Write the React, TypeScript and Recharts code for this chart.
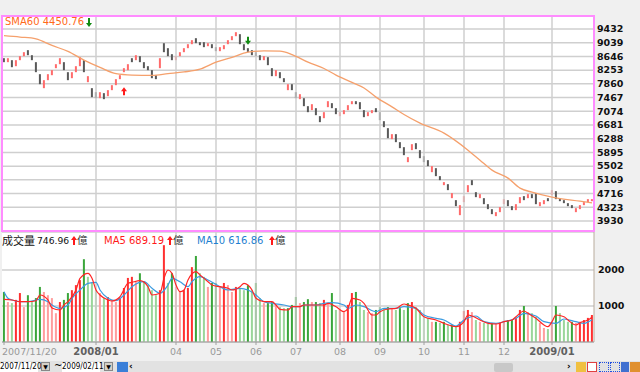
import { Bar, CartesianGrid, ComposedChart, Line, ReferenceDot, ReferenceLine, XAxis, YAxis } from 'recharts'

// one bar per two trading days, 2007/11/20 .. 2009/02/11
const opens = [
  8595, 8481, 8538, 8366, 8538, 8653, 8825, 8681, 8481, 8137, 7736, 7965, 8108, 8309, 8423, 8481, 8194, 8022, 8194, 8366,
  8538, 7908, 7736, 7621, 7449, 7593, 7507, 7679, 7822, 7994, 8194, 8252, 8595, 8538, 8653, 8481, 8366, 8252, 8108, 8309,
  9025, 8882, 8710, 8538, 8653, 8767, 8882, 8996, 9168, 9054, 9054, 8939, 8996, 8911, 8796, 8853, 8996, 9111, 9226, 9283,
  8996, 8882, 8825, 8767, 8681, 8538, 8624, 8309, 8080, 8194, 8022, 7679, 7850, 7621, 7421, 7449, 7220, 7106, 7163, 6934,
  6876, 7192, 7306, 7163, 6934, 6991, 7106, 7277, 7363, 7335, 7106, 6934, 7020, 7163, 7048, 6790, 6590, 6275, 6418, 6189,
  6045, 5616, 5960, 6160, 5960, 5788, 5673, 5329, 5444, 5215, 4957, 4985, 4584, 4527, 4097, 4470, 4756, 5100, 4756, 4584,
  4584, 4412, 4269, 4069, 4183, 4412, 4527, 4355, 4241, 4441, 4642, 4584, 4699, 4728, 4355, 4412, 4584, 4670, 4785, 4584,
  4527, 4441, 4384, 4183, 4269, 4384, 4470, 4498,
]
const closes = [
  8481, 8595, 8337, 8538, 8653, 8767, 8681, 8538, 8194, 7850, 7965, 8137, 8252, 8423, 8595, 8252, 7965, 8194, 8366, 8624,
  8194, 8080, 7478, 7449, 7621, 7421, 7679, 7822, 7994, 8108, 8309, 8423, 8481, 8681, 8481, 8309, 8252, 8022, 7994, 8595,
  8767, 8653, 8538, 8653, 8767, 8882, 8996, 9111, 9025, 8968, 8911, 9025, 8882, 8796, 8911, 8968, 9111, 9226, 9340, 8996,
  8825, 8767, 8681, 8653, 8538, 8653, 8395, 8080, 8252, 8022, 7908, 7850, 7679, 7449, 7564, 7220, 7048, 7277, 6962, 6762,
  7048, 7363, 7163, 6991, 7048, 7106, 7249, 7363, 7277, 7134, 6905, 7048, 7106, 7048, 6819, 6619, 6303, 6418, 6189, 6017,
  5816, 5759, 6131, 5988, 5730, 5616, 5501, 5501, 5215, 5100, 5043, 4814, 4728, 4355, 4384, 4642, 4957, 4957, 4613, 4699,
  4412, 4269, 4126, 4183, 4327, 4556, 4355, 4241, 4412, 4613, 4527, 4699, 4584, 4412, 4470, 4527, 4498, 4814, 4556, 4498,
  4441, 4355, 4298, 4298, 4384, 4470, 4556, 4556,
]
// 成交量 (億)
const volumes = [
  1390, 1110, 1080, 1170, 1360, 970, 1300, 1110, 1220, 1530, 1390, 1300, 1220, 800, 1110, 1170, 1360, 1440, 1580, 1720,
  2300, 1810, 1640, 1440, 1360, 1220, 1250, 1170, 1110, 1220, 1500, 1780, 1810, 1670, 1910, 1670, 1580, 1440, 1300, 1440,
  2690, 1640, 1910, 1530, 1390, 1440, 1500, 2080, 2390, 1910, 1810, 1530, 1640, 1640, 1530, 1640, 1580, 1390, 1530, 1500,
  1440, 1580, 1440, 1640, 1220, 1080, 1080, 1110, 1030, 970, 940, 940, 1030, 1250, 1080, 1110, 1190, 1110, 1110, 1080,
  1170, 1080, 1360, 890, 890, 830, 1030, 1360, 1390, 1110, 890, 830, 800, 890, 970, 940, 970, 940, 890, 940,
  890, 1080, 1110, 970, 890, 700, 670, 560, 560, 530, 560, 470, 470, 420, 560, 860, 890, 830, 610, 560,
  530, 500, 530, 500, 530, 560, 610, 610, 670, 890, 1000, 830, 800, 700, 530, 390, 360, 560, 1000, 800,
  610, 560, 560, 530, 560, 610, 670, 750,
]
// [bar index, value]
const sma60Pts = [
  [0, 9240], [4, 9200], [8, 9150], [12, 8960], [16, 8790], [20, 8540], [24, 8330], [28, 8150], [32, 8110], [37, 8100],
  [41, 8150], [45, 8200], [49, 8280], [53, 8480], [57, 8620], [61, 8770], [65, 8805], [69, 8796], [72, 8700], [76, 8480],
  [80, 8300], [83, 8110], [87, 7900], [90, 7740], [93, 7480], [97, 7200], [100, 6980], [104, 6733], [110, 6447], [116, 5960],
  [119, 5673], [122, 5387], [126, 5158], [129, 4871], [132, 4756], [137, 4613], [144, 4498], [147, 4451],
]
const ma5Pts = [
  [0, 1186], [2, 1167], [4, 1120], [6, 1120], [8, 1147], [9, 1306], [11, 1167], [12, 945], [14, 889], [15, 1028],
  [16, 1120], [18, 1445], [19, 1770], [21, 1908], [22, 1770], [23, 1445], [24, 1306], [26, 1167], [27, 1139], [29, 1258],
  [31, 1631], [32, 1658], [34, 1703], [36, 1536], [37, 1306], [39, 1353], [40, 1770], [41, 2000], [42, 1908], [43, 1583],
  [44, 1397], [45, 1445], [46, 1722], [48, 1953], [49, 1861], [51, 1675], [52, 1583], [54, 1536], [56, 1492], [57, 1445],
  [59, 1536], [60, 1631], [62, 1445], [63, 1214], [65, 1120], [67, 1120], [68, 1028], [69, 908], [71, 889], [72, 981],
  [74, 981], [75, 1028], [78, 1028], [80, 1028], [81, 1075], [83, 981], [85, 842], [86, 936], [87, 1214], [89, 1167],
  [90, 1075], [92, 750], [93, 750], [94, 842], [96, 917], [98, 936], [100, 1056], [101, 1028], [103, 936], [105, 703],
  [108, 611], [110, 519], [113, 425], [115, 564], [116, 750], [117, 722], [119, 611], [121, 519], [123, 500], [125, 564],
  [127, 611], [128, 703], [130, 861], [131, 797], [133, 658], [135, 472], [136, 425], [137, 564], [138, 750], [140, 703],
  [141, 611], [143, 472], [144, 536], [146, 611], [147, 689],
]
const ma10Pts = [
  [0, 1397], [1, 1214], [2, 1167], [4, 1120], [6, 1120], [9, 1186], [11, 1120], [12, 1028], [14, 936], [16, 1028],
  [17, 1214], [19, 1445], [21, 1631], [23, 1658], [24, 1445], [26, 1214], [28, 1147], [30, 1306], [32, 1536], [35, 1675],
  [37, 1492], [39, 1353], [41, 1583], [42, 1770], [44, 1675], [46, 1536], [47, 1675], [49, 1814], [51, 1722], [54, 1536],
  [56, 1445], [59, 1492], [61, 1445], [63, 1306], [65, 1120], [67, 1075], [70, 1028], [72, 981], [74, 981], [75, 1028],
  [78, 1028], [80, 1075], [82, 1092], [85, 1028], [86, 936], [88, 1028], [90, 981], [93, 842], [95, 936], [98, 936],
  [100, 981], [103, 936], [105, 750], [108, 658], [110, 611], [113, 444], [115, 611], [118, 722], [120, 564], [123, 519],
  [125, 564], [128, 658], [130, 797], [133, 722], [135, 564], [138, 519], [140, 639], [143, 564], [145, 519], [147, 617],
]

const priceTicks = [3930, 4323, 4716, 5109, 5502, 5895, 6288, 6681, 7074, 7467, 7860, 8253, 8646, 9039, 9432]
const volumeTicks = [1000, 2000]
const monthIdx = [23, 43, 53, 63, 73, 84, 94, 105, 115, 125, 137]
const monthLabels = ['2008/01', '04', '05', '06', '07', '08', '09', '10', '11', '12', '2009/01']
const startLabel = '2007/11/20'
const signalUp = [30, 7650]
const signalDown = [61, 9097]

const font = '"DejaVu Sans", Verdana, sans-serif'
const cjk = '"Noto Sans CJK TC", "Noto Sans CJK SC", sans-serif'
const gridColor = '#cfcfcf'

type Row = {
  i: number
  o: number
  c: number
  range: number[]
  v: number
  volColor: string
  sma60: number | null
  ma5: number | null
  ma10: number | null
}

const rows: Row[] = opens.map((o, i) => {
  const c = closes[i]
  const rise = c >= (i > 0 ? closes[i - 1] : o)
  const grow = i === 0 || volumes[i] >= volumes[i - 1]
  const volColor = rise ? (grow ? '#ff3030' : '#ff9d9d') : grow ? '#3aa63a' : '#9ad69a'
  return { i, o, c, range: [Math.min(o, c), Math.max(o, c)], v: volumes[i], volColor, sma60: null, ma5: null, ma10: null }
})
sma60Pts.forEach(([i, v]) => (rows[i].sma60 = v))
ma5Pts.forEach(([i, v]) => (rows[i].ma5 = v))
ma10Pts.forEach(([i, v]) => (rows[i].ma10 = v))

const tickLabels = new Map<number, string>([[0, startLabel], ...monthIdx.map((m, k) => [m, monthLabels[k]] as [number, string])])

function Candle(props: any) {
  const { x, y, width, height, payload } = props
  const top = Math.min(y, y + height)
  const h = Math.max(Math.abs(height), 2)
  return <rect x={x + width / 2 - 1} y={top} width={2} height={h} fill={payload.c >= payload.o ? '#ff6b6b' : '#595959'} />
}

function VolBar(props: any) {
  const { x, y, width, height, payload } = props
  return <rect x={x + width / 2 - 1} y={y} width={2} height={Math.max(height, 0)} fill={payload.volColor} />
}

function XTick(props: any) {
  const { x, y, payload } = props
  const label = tickLabels.get(payload.value) ?? ''
  const first = payload.value === 0
  const bold = !first && label.includes('/')
  return (
    <text
      x={first ? 2 : x}
      y={y + 10}
      textAnchor={first ? 'start' : 'middle'}
      fontSize={bold ? 10 : 9.5}
      fontWeight={bold ? 'bold' : 'normal'}
      fill={bold ? '#606060' : '#999'}
      fontFamily={font}
    >
      {label}
    </text>
  )
}

const upMark = (p: any) => (
  <path d={`M${p.cx} ${p.cy - 4} l3 4 h-2 v4 h-2 v-4 h-2 z`} fill="#ff1a1a" />
)
const downMark = (p: any) => (
  <path d={`M${p.cx} ${p.cy + 4} l3 -4 h-2 v-4 h-2 v4 h-2 z`} fill="#118a11" />
)

function Arrow({ left, top, color, down }: { left: number; top: number; color: string; down?: boolean }) {
  const d = down ? 'M3 9 L6 5 L4 5 L4 0 L2 0 L2 5 L0 5 Z' : 'M3 0 L6 4 L4 4 L4 9 L2 9 L2 4 L0 4 Z'
  return (
    <svg width={6} height={9} style={{ position: 'absolute', left, top }}>
      <path d={d} fill={color} />
    </svg>
  )
}

const axisTick = { fontSize: 9.5, fontWeight: 'bold', fill: '#111', fontFamily: font }

function App() {
  return (
    <div
      style={{
        position: 'fixed',
        left: 0,
        top: 0,
        width: 640,
        height: 372,
        background: '#f0f0f0',
        overflow: 'hidden',
        fontFamily: font,
      }}
    >
      <div style={{ position: 'absolute', left: 0, top: 0 }}>
        <ComposedChart width={640} height={233} data={rows} margin={{ top: 16, right: 0, bottom: 2, left: 2 }}>
          <CartesianGrid vertical={false} stroke={gridColor} strokeWidth={1.5} fill="#ffffff" />
          <XAxis dataKey="i" hide />
          <YAxis
            orientation="right"
            width={46}
            domain={[3643, 9804]}
            ticks={priceTicks}
            interval={0}
            allowDataOverflow
            axisLine={false}
            tickLine={false}
            tickSize={0}
            tickMargin={3}
            tick={axisTick}
          />
          {monthIdx.map((m) => (
            <ReferenceLine key={m} x={m} stroke={gridColor} strokeWidth={1.5} />
          ))}
          <Bar dataKey="range" shape={Candle} isAnimationActive={false} />
          <Line
            dataKey="sma60"
            type="monotone"
            stroke="#f5a06c"
            strokeWidth={1.3}
            dot={false}
            connectNulls
            isAnimationActive={false}
          />
          <ReferenceDot x={signalUp[0]} y={signalUp[1]} shape={upMark} />
          <ReferenceDot x={signalDown[0]} y={signalDown[1]} shape={downMark} />
        </ComposedChart>
      </div>

      <div
        style={{
          position: 'absolute',
          left: 1,
          top: 15,
          width: 594,
          height: 217,
          boxSizing: 'border-box',
          border: '2px solid #ff8cff',
          pointerEvents: 'none',
        }}
      />
      <div style={{ position: 'absolute', left: 5, top: 16, fontSize: 10, color: '#ff6a1a', whiteSpace: 'nowrap' }}>
        SMA60 4450.76
      </div>
      <Arrow left={86} top={18} color="#118a11" down />

      <div style={{ position: 'absolute', left: 0, top: 232 }}>
        <ComposedChart width={640} height={128} data={rows} margin={{ top: 0, right: 0, bottom: 0, left: 2 }}>
          <CartesianGrid vertical={false} stroke={gridColor} strokeWidth={1.5} fill="#ffffff" />
          <XAxis
            dataKey="i"
            height={18}
            ticks={[0, ...monthIdx]}
            interval={0}
            stroke="#a0a0a0"
            tickSize={3}
            tickMargin={0}
            tick={XTick}
          />
          <YAxis
            orientation="right"
            width={46}
            domain={[0, 3056]}
            ticks={volumeTicks}
            interval={0}
            allowDataOverflow
            axisLine={{ stroke: '#b8ab9c' }}
            tickLine={false}
            tickSize={0}
            tickMargin={4}
            tick={axisTick}
          />
          {monthIdx.map((m) => (
            <ReferenceLine key={m} x={m} stroke={gridColor} strokeWidth={1.5} />
          ))}
          <Bar dataKey="v" shape={VolBar} isAnimationActive={false} />
          <Line dataKey="ma10" type="monotone" stroke="#3b9be0" strokeWidth={1.2} dot={false} connectNulls isAnimationActive={false} />
          <Line dataKey="ma5" type="monotone" stroke="#ff2424" strokeWidth={1.2} dot={false} connectNulls isAnimationActive={false} />
        </ComposedChart>
      </div>

      <div style={{ position: 'absolute', left: 2, top: 233, fontSize: 11, fontFamily: cjk, color: '#111', lineHeight: '14px' }}>成交量</div>
      <div style={{ position: 'absolute', left: 37, top: 235, fontSize: 9.2, color: '#111', lineHeight: '12px' }}>746.96</div>
      <Arrow left={71} top={236} color="#ff1a1a" />
      <div style={{ position: 'absolute', left: 77, top: 233, fontSize: 10.5, fontFamily: cjk, color: '#333', lineHeight: '14px' }}>億</div>
      <div style={{ position: 'absolute', left: 104, top: 235, fontSize: 10, color: '#ff1a1a', lineHeight: '12px' }}>MA5 689.19</div>
      <Arrow left={167} top={236} color="#ff1a1a" />
      <div style={{ position: 'absolute', left: 173, top: 233, fontSize: 10.5, fontFamily: cjk, color: '#333', lineHeight: '14px' }}>億</div>
      <div style={{ position: 'absolute', left: 197, top: 235, fontSize: 10, color: '#1f7fd0', lineHeight: '12px' }}>MA10 616.86</div>
      <Arrow left={269} top={236} color="#ff1a1a" />
      <div style={{ position: 'absolute', left: 275, top: 233, fontSize: 10.5, fontFamily: cjk, color: '#333', lineHeight: '14px' }}>億</div>

      <div style={{ position: 'absolute', left: 0, top: 361, width: 640, height: 11, background: '#e2e2e2' }} />
      {[
        [0, '2007/11/20'],
        [62, '2009/02/11'],
      ].map(([left, text]) => (
        <div
          key={text as string}
          style={{
            position: 'absolute',
            left: left as number,
            top: 362,
            width: 38,
            height: 10,
            background: '#fff',
            fontSize: 8,
            lineHeight: '10px',
            fontFamily: '"Liberation Sans Narrow", "DejaVu Sans Condensed", sans-serif',
            color: '#000',
          }}
        >
          {text}
        </div>
      ))}
      {[41, 104].map((left) => (
        <div
          key={left}
          style={{
            position: 'absolute',
            left,
            top: 362,
            width: 9,
            height: 9,
            background: '#d4d0c8',
            border: '1px solid #888',
            boxSizing: 'border-box',
            fontSize: 6,
            lineHeight: '7px',
            textAlign: 'center',
          }}
        >
          ▼
        </div>
      ))}
      <div style={{ position: 'absolute', left: 54, top: 360, fontSize: 10, lineHeight: '12px' }}>~</div>
      <div style={{ position: 'absolute', left: 117, top: 362, width: 11, height: 10, background: '#3a7fd8' }} />
      <div style={{ position: 'absolute', left: 129, top: 361, fontSize: 9, lineHeight: '11px', fontWeight: 'bold' }}>‹</div>
      <div style={{ position: 'absolute', left: 494, top: 363, width: 19, height: 9, background: '#c8c8c8', borderRadius: 2 }} />
      <div style={{ position: 'absolute', left: 567, top: 361, fontSize: 9, lineHeight: '11px', fontWeight: 'bold' }}>›</div>
      <div style={{ position: 'absolute', left: 576, top: 362, width: 10, height: 10, background: '#f0c040' }} />
      <div style={{ position: 'absolute', left: 587, top: 362, width: 10, height: 10, background: '#fff', border: '1px solid #e04040', boxSizing: 'border-box' }} />
      <div style={{ position: 'absolute', left: 599, top: 362, width: 10, height: 10, border: '1px dotted #2050e0', boxSizing: 'border-box' }} />
      <div style={{ position: 'absolute', left: 610, top: 362, width: 10, height: 10, border: '1px dotted #2050e0', boxSizing: 'border-box' }} />
      <div style={{ position: 'absolute', left: 621, top: 362, width: 8, height: 10, background: '#4070d0' }} />
      <div style={{ position: 'absolute', left: 630, top: 362, width: 10, height: 10, background: '#e09030' }} />
    </div>
  )
}

export default App
